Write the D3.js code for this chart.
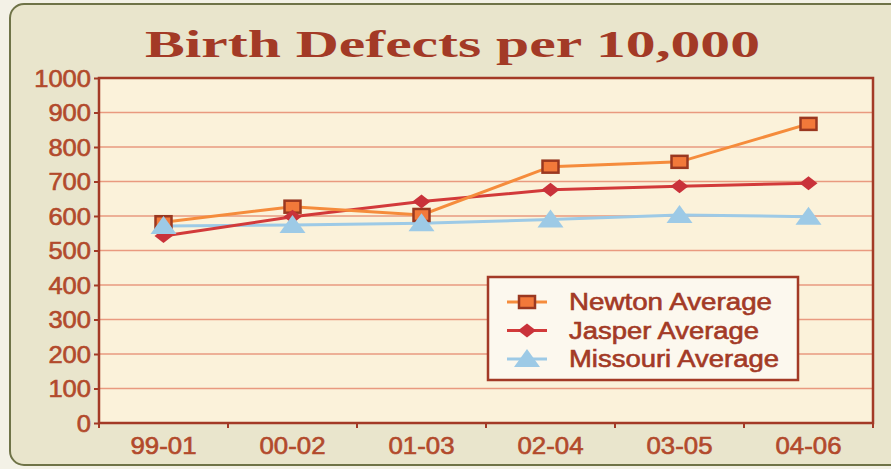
<!DOCTYPE html>
<html>
<head>
<meta charset="utf-8">
<script src="https://cdn.jsdelivr.net/npm/d3@7"></script>
<style>
html,body{margin:0;padding:0;background:#f4f1e4;}
svg{display:block;}
</style>
</head>
<body>
<svg id="chart" width="891" height="469"></svg>
<script>
const categories = ["99-01","00-02","01-03","02-04","03-05","04-06"];
const newtonAvg   = [582, 627, 603, 743, 757, 867];
const jasperAvg   = [542, 598, 642, 676, 686, 695];
const missouriAvg = [571, 574, 579, 590, 603, 598];
const yTicks = [0,100,200,300,400,500,600,700,800,900,1000];
const seriesNames = ["Newton Average","Jasper Average","Missouri Average"];

const svg = d3.select("#chart");
const W = 891, H = 469;
const plot = {left: 99, top: 78, right: 873, bottom: 423};
const labelFont = "'Liberation Sans',Arial,sans-serif";

// outer panel
svg.append("rect").attr("x",0).attr("y",0).attr("width",W).attr("height",H).attr("fill","#f3f1e6");
svg.append("rect").attr("x",10).attr("y",4).attr("width",900).attr("height",461)
  .attr("rx",14).attr("fill","#e9e5cc").attr("stroke","#6f7347").attr("stroke-width",2);

// title
svg.append("text").attr("x",145).attr("y",57)
  .attr("font-family","'Liberation Serif','DejaVu Serif',serif").attr("font-weight","bold")
  .attr("font-size",38).attr("fill","#a33a26")
  .attr("textLength",615).attr("lengthAdjust","spacingAndGlyphs")
  .text("Birth Defects per 10,000");

const x = d3.scaleBand().domain(categories).range([plot.left, plot.right]);
const y = d3.scaleLinear().domain([0,1000]).range([plot.bottom, plot.top]);

// plot bg
svg.append("rect").attr("x",plot.left).attr("y",plot.top)
  .attr("width",plot.right-plot.left).attr("height",plot.bottom-plot.top).attr("fill","#fbf2da");

// gridlines
svg.append("g").selectAll("line").data(yTicks.filter(d=>d>0 && d<1000)).join("line")
  .attr("x1",plot.left).attr("x2",plot.right)
  .attr("y1",d=>y(d)).attr("y2",d=>y(d))
  .attr("stroke","#e99a7f").attr("stroke-width",1.6);

// Y axis
const yAxis = svg.append("g").attr("transform",`translate(${plot.left},0)`)
  .call(d3.axisLeft(y).tickValues(yTicks).tickFormat(d3.format("d")).tickSize(5).tickPadding(3));
yAxis.select(".domain").remove();
yAxis.selectAll(".tick line").attr("stroke","#a33a26").attr("stroke-width",2);
yAxis.selectAll(".tick text").attr("font-family",labelFont)
  .attr("font-size",23).attr("fill","#b24a2c").attr("stroke","#b24a2c").attr("stroke-width",0.6)
  .attr("dy","0.36em")
  .each(function(){ const t=d3.select(this); const n=t.text().length; t.attr("textLength", n*14.2).attr("lengthAdjust","spacingAndGlyphs"); });

// X axis
const xAxis = svg.append("g").attr("transform",`translate(0,${plot.bottom})`)
  .call(d3.axisBottom(x).tickSize(0).tickPadding(14));
xAxis.select(".domain").remove();
xAxis.selectAll(".tick text").attr("font-family",labelFont)
  .attr("font-size",23).attr("fill","#b24a2c").attr("stroke","#b24a2c").attr("stroke-width",0.6)
  .attr("dy","0.72em")
  .attr("textLength",66).attr("lengthAdjust","spacingAndGlyphs");
// boundary ticks
const bounds = categories.map(c=>x(c)).concat([plot.right]);
svg.append("g").selectAll("line").data(bounds).join("line")
  .attr("x1",d=>d).attr("x2",d=>d).attr("y1",plot.bottom).attr("y2",plot.bottom+5)
  .attr("stroke","#a33a26").attr("stroke-width",2);

// plot border
svg.append("rect").attr("x",plot.left).attr("y",plot.top)
  .attr("width",plot.right-plot.left).attr("height",plot.bottom-plot.top)
  .attr("fill","none").attr("stroke","#a33a26").attr("stroke-width",2.5);

const cx = d => x(d) + x.bandwidth()/2;
const line = vals => d3.line().x((d,i)=>cx(categories[i])).y(d=>y(d))(vals);

// Missouri
svg.append("path").attr("d",line(missouriAvg)).attr("fill","none").attr("stroke","#9dcae6").attr("stroke-width",3);
// Jasper
svg.append("path").attr("d",line(jasperAvg)).attr("fill","none").attr("stroke","#d23a3a").attr("stroke-width",3);
// Newton
svg.append("path").attr("d",line(newtonAvg)).attr("fill","none").attr("stroke","#f58c3c").attr("stroke-width",3);

function square(g, px, py){
  g.append("rect").attr("x",px-8).attr("y",py-6).attr("width",16).attr("height",12)
    .attr("fill","#f2793a").attr("stroke","#9a3820").attr("stroke-width",2.5);
}
function diamond(g, px, py){
  g.append("path").attr("d",`M${px-9},${py}L${px},${py-7}L${px+9},${py}L${px},${py+7}Z`).attr("fill","#c9323a");
}
function triangle(g, px, py){
  g.append("path").attr("d",`M${px},${py-10}L${px+13},${py+8}L${px-13},${py+8}Z`).attr("fill","#9dcae6");
}
const mg = svg.append("g");
newtonAvg.forEach((v,i)=>square(mg, cx(categories[i]), y(v)));
jasperAvg.forEach((v,i)=>diamond(mg, cx(categories[i]), y(v)));
missouriAvg.forEach((v,i)=>triangle(mg, cx(categories[i]), y(v)));

// legend
const lg = svg.append("g");
lg.append("rect").attr("x",488).attr("y",277).attr("width",310).attr("height",103)
  .attr("fill","#fcf8ee").attr("stroke","#a33a26").attr("stroke-width",2.5);
const legendColors = ["#f58c3c","#d23a3a","#9dcae6"];
const markers = [square, diamond, triangle];
seriesNames.forEach((name,i)=>{
  const ry = 302 + i*28.5;
  lg.append("line").attr("x1",507).attr("x2",547).attr("y1",ry).attr("y2",ry)
    .attr("stroke",legendColors[i]).attr("stroke-width",3);
  markers[i](lg, 527, ry);
  lg.append("text").attr("x",569).attr("y",ry+8)
    .attr("font-family",labelFont).attr("font-size",23)
    .attr("fill","#a33a26").attr("stroke","#a33a26").attr("stroke-width",0.6)
    .attr("textLength", [203,190,210][i]).attr("lengthAdjust","spacingAndGlyphs")
    .text(name);
});
</script>
</body>
</html>
